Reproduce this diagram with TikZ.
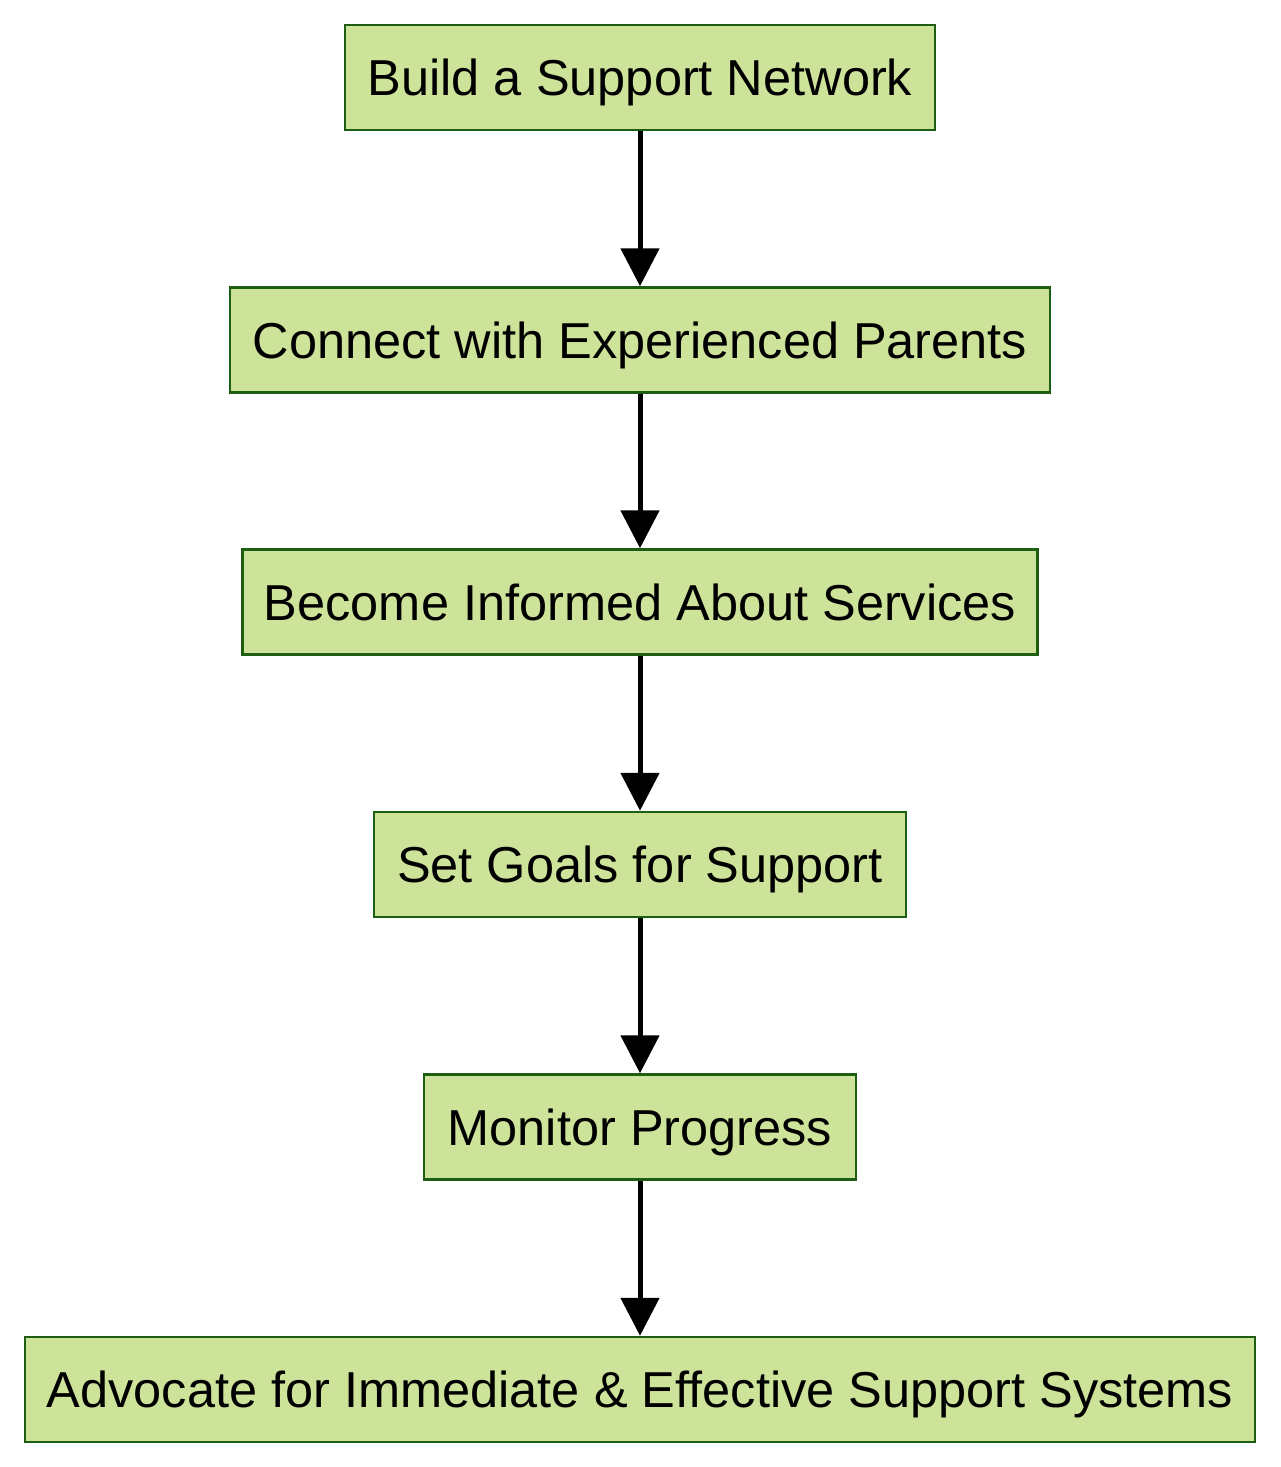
\documentclass[tikz,border=0pt]{standalone}
\usepackage{fontspec}
\setmainfont{Liberation Sans}
\usetikzlibrary{arrows.meta}
\definecolor{boxfill}{HTML}{CEE39A}
\definecolor{boxline}{HTML}{1E5E12}
\begin{document}
\begin{tikzpicture}[x=1pt,y=-1pt,
  stepbox/.style={draw=boxline, fill=boxfill, line width=2.5pt, inner sep=0pt,
    minimum height=105pt, font=\fontsize{50.5}{60}\selectfont, text=black,
    text height=36pt, text depth=0pt},
  flow/.style={line width=5pt, -{Triangle[length=38pt,width=38pt]}}]
\useasboundingbox[fill=white] (0,0) rectangle (1280,1467);
\node[stepbox, minimum width=590pt] (n1) at (640,77.5) {Build a Support Network};
\node[stepbox, minimum width=820pt] (n2) at (640,340) {Connect with Experienced Parents};
\node[stepbox, minimum width=795pt] (n3) at (640,602) {Become Informed About Services};
\node[stepbox, minimum width=532pt] (n4) at (640,864.5) {Set Goals for Support};
\node[stepbox, minimum width=432pt] (n5) at (640,1127) {Monitor Progress};
\node[stepbox, minimum width=1230pt] (n6) at (640,1389.5) {Advocate for Immediate \& Effective Support Systems};
\draw[flow] (n1) -- (n2);
\draw[flow] (n2) -- (n3);
\draw[flow] (n3) -- (n4);
\draw[flow] (n4) -- (n5);
\draw[flow] (n5) -- (n6);
\end{tikzpicture}
\end{document}
